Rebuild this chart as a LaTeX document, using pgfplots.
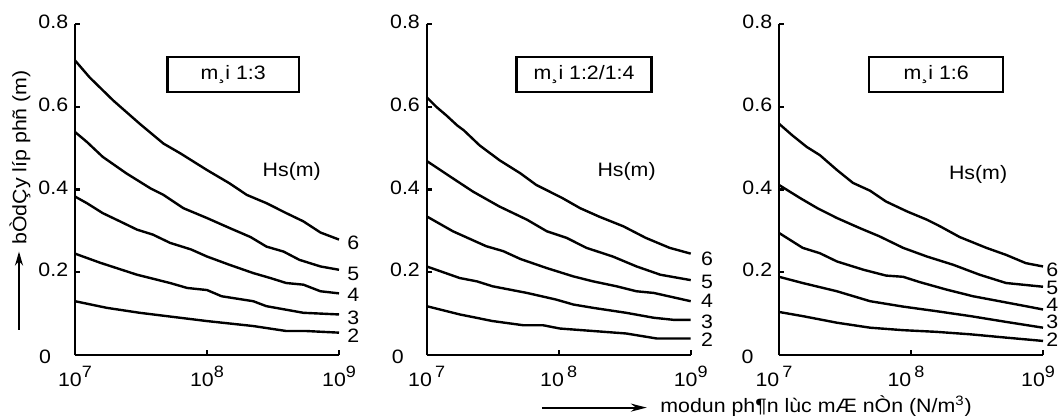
\documentclass[border=0pt]{standalone}
\usepackage{fontspec}
\setmainfont{Liberation Sans}[FakeStretch=1.1]
\usepackage{pgfplots}
\pgfplotsset{compat=1.18}
\usetikzlibrary{arrows.meta}

% raised exponent for the 10^n tick labels
\newcommand\ex[1]{\raisebox{0.45em}{\fontsize{8.2}{9}\selectfont #1}}

\pgfplotsset{
  mypanel/.style={
    scale only axis, width=132pt, height=165.5pt,
    anchor=south west,
    xmin=1e7, xmax=1e9, ymin=0, ymax=0.8,
    axis lines=left, axis line style={-, line width=1.2pt},
    xtick={1e7,1e8,1e9}, ytick={0.2,0.4,0.6,0.8},
    yticklabels={0.2,0.4,0.6,0.8},
    xminorticks=false, yminorticks=false,
    tick align=inside, major tick length=2.5pt,
    tick style={black, line width=1.2pt},
    yticklabel style={yshift=1pt},
    xticklabel style={anchor=base, yshift=-15.5pt},
    every axis plot post/.append style={black, line width=1.2pt, mark=none},
    clip=false,
  },
}
\tikzset{slopebox/.style={draw, line width=1.2pt, minimum height=17.5pt, inner sep=0pt},
  hs/.style={anchor=west, inner sep=0pt}}

\begin{document}
\fontsize{9.7}{11}\selectfont
\begin{tikzpicture}
\path[use as bounding box] (0,0) rectangle (529pt,208.5pt);

% ---- panel 1: slope 1:3
\begin{axis}[xmode=log, mypanel, at={(37.5pt,31pt)},
    xticklabels={{10\ex{7}},{10\ex{8}},{10\ex{9}}}]
\addplot coordinates {(1e7,0.712) (1.29e7,0.671) (1.95e7,0.615) (3.09e7,0.559) (4.68e7,0.511) (6.31e7,0.487) (1e8,0.447) (1.48e8,0.415) (2.00e8,0.387) (2.82e8,0.367) (3.98e8,0.343) (5.37e8,0.323) (7.24e8,0.296) (1e9,0.279)};
\addplot coordinates {(1e7,0.539) (1.23e7,0.515) (1.62e7,0.479) (2.45e7,0.439) (3.72e7,0.403) (4.68e7,0.387) (6.61e7,0.355) (1e8,0.331) (1.48e8,0.307) (2.14e8,0.285) (2.82e8,0.262) (3.80e8,0.250) (5.01e8,0.230) (7.24e8,0.214) (1e9,0.206)};
\addplot coordinates {(1e7,0.383) (1.23e7,0.367) (1.62e7,0.343) (2.19e7,0.323) (2.95e7,0.303) (3.89e7,0.291) (5.25e7,0.271) (7.59e7,0.255) (1e8,0.238) (1.48e8,0.218) (2.24e8,0.198) (3.02e8,0.186) (3.98e8,0.174) (5.37e8,0.170) (7.24e8,0.154) (1e9,0.149)};
\addplot coordinates {(1e7,0.245) (1.55e7,0.223) (2.95e7,0.194) (5.25e7,0.174) (7.08e7,0.162) (1e8,0.157) (1.29e8,0.142) (2.24e8,0.130) (2.82e8,0.118) (5.37e8,0.102) (1e9,0.098)};
\addplot coordinates {(1e7,0.130) (1.74e7,0.114) (3.09e7,0.102) (1e8,0.082) (2.24e8,0.070) (3.98e8,0.058) (5.62e8,0.058) (1e9,0.054)};
\node[slopebox, minimum width=65.8pt] at (rel axis cs:0.599,0.848) {m¸i 1:3};
\node at (rel axis cs:0.821,0.554) {Hs(m)};
\node[xshift=-15pt, yshift=-1pt] at (axis cs:1e7,0) {0};
\node[hs, xshift=4pt] at (axis cs:1e9,0.271) {6};
\node[hs, xshift=4pt] at (axis cs:1e9,0.195) {5};
\node[hs, xshift=4pt] at (axis cs:1e9,0.146) {4};
\node[hs, xshift=4pt] at (axis cs:1e9,0.091) {3};
\node[hs, xshift=4pt] at (axis cs:1e9,0.046) {2};
\end{axis}

% ---- panel 2: slope 1:2/1:4
\begin{axis}[xmode=log, mypanel, at={(213.35pt,31pt)},
    xticklabels={{10\,\ex{7}},{10\,\ex{8}},{10\ex{9}}}]
\addplot coordinates {(1e7,0.623) (1.19e7,0.599) (1.41e7,0.579) (1.70e7,0.555) (1.91e7,0.543) (2.51e7,0.507) (3.55e7,0.471) (5.13e7,0.439) (6.76e7,0.411) (8.51e7,0.395) (1.07e8,0.379) (1.45e8,0.355) (2.04e8,0.334) (3.09e8,0.311) (4.57e8,0.283) (6.92e8,0.259) (1e9,0.245)};
\addplot coordinates {(1e7,0.469) (1.51e7,0.431) (2.24e7,0.395) (3.55e7,0.359) (5.75e7,0.327) (8.13e7,0.299) (1.15e8,0.283) (1.62e8,0.259) (2.57e8,0.238) (3.89e8,0.214) (5.89e8,0.194) (1e9,0.181)};
\addplot coordinates {(1e7,0.335) (1.58e7,0.299) (2.82e7,0.263) (3.80e7,0.251) (5.13e7,0.232) (8.13e7,0.210) (1.29e8,0.190) (1.82e8,0.178) (2.75e8,0.166) (3.89e8,0.154) (5.25e8,0.150) (1e9,0.130)};
\addplot coordinates {(1e7,0.214) (1.78e7,0.186) (2.40e7,0.178) (3.16e7,0.166) (5.75e7,0.150) (9.55e7,0.134) (1.29e8,0.122) (1.82e8,0.114) (3.24e8,0.102) (5.25e8,0.090) (7.41e8,0.085) (1e9,0.085)};
\addplot coordinates {(1e7,0.118) (1.78e7,0.098) (3.16e7,0.082) (5.37e7,0.072) (7.59e7,0.072) (1.02e8,0.064) (1.82e8,0.058) (3.24e8,0.052) (5.50e8,0.040) (1e9,0.040)};
\node[slopebox, minimum width=67.5pt] at (rel axis cs:0.596,0.848) {m¸i 1:2/1:4};
\node at (rel axis cs:0.757,0.554) {Hs(m)};
\node[xshift=-14.4pt, yshift=-1pt] at (axis cs:1e7,0) {0};
\node[hs, xshift=5pt] at (axis cs:1e9,0.232) {6};
\node[hs, xshift=5pt] at (axis cs:1e9,0.176) {5};
\node[hs, xshift=5pt] at (axis cs:1e9,0.130) {4};
\node[hs, xshift=5pt] at (axis cs:1e9,0.080) {3};
\node[hs, xshift=5pt] at (axis cs:1e9,0.036) {2};
\end{axis}

% ---- panel 3: slope 1:6
\begin{axis}[xmode=log, mypanel, at={(389.5pt,31pt)},
    xticklabel style={xshift=-2.5pt},
    xticklabels={{10\,\ex{7}},{10\,\ex{8}},{10\ex{9}}}]
\addplot coordinates {(1e7,0.559) (1.26e7,0.531) (1.62e7,0.503) (2.04e7,0.483) (2.75e7,0.447) (3.63e7,0.416) (4.90e7,0.397) (6.46e7,0.371) (9.33e7,0.347) (1.32e8,0.327) (1.66e8,0.311) (2.34e8,0.285) (3.72e8,0.259) (5.25e8,0.242) (7.41e8,0.222) (1e9,0.214)};
\addplot coordinates {(1e7,0.411) (1.45e7,0.379) (1.95e7,0.355) (2.75e7,0.331) (4.07e7,0.307) (5.75e7,0.287) (8.71e7,0.259) (1.32e8,0.238) (2.09e8,0.218) (3.31e8,0.194) (5.25e8,0.174) (1e9,0.165)};
\addplot coordinates {(1e7,0.295) (1.51e7,0.259) (2.04e7,0.246) (2.75e7,0.226) (4.37e7,0.206) (6.46e7,0.192) (8.71e7,0.189) (1.17e8,0.176) (1.86e8,0.158) (2.95e8,0.142) (4.68e8,0.130) (7.41e8,0.118) (1e9,0.110)};
\addplot coordinates {(1e7,0.189) (1.51e7,0.174) (2.75e7,0.154) (4.90e7,0.130) (8.71e7,0.117) (1.55e8,0.106) (2.82e8,0.094) (5.25e8,0.080) (1e9,0.066)};
\addplot coordinates {(1e7,0.104) (1.51e7,0.094) (2.75e7,0.078) (4.90e7,0.066) (8.71e7,0.060) (1.55e8,0.056) (2.82e8,0.050) (5.25e8,0.042) (1e9,0.034)};
\node[slopebox, minimum width=67pt] at (rel axis cs:0.595,0.848) {m¸i 1:6};
\node at (rel axis cs:0.754,0.544) {Hs(m)};
\node[xshift=-15.7pt, yshift=-1pt] at (axis cs:1e7,0) {0};
\node[hs, xshift=1.5pt] at (axis cs:1e9,0.207) {6};
\node[hs, xshift=1.5pt] at (axis cs:1e9,0.163) {5};
\node[hs, xshift=1.5pt] at (axis cs:1e9,0.121) {4};
\node[hs, xshift=1.5pt] at (axis cs:1e9,0.079) {3};
\node[hs, xshift=1.5pt] at (axis cs:1e9,0.037) {2};
\end{axis}

% axis titles with their arrows
\node[rotate=90] at (10pt,129.8pt) {bÒdÇy líp phñ (m)};
\draw[line width=1pt, -{Stealth[length=7pt, width=4pt]}] (9.5pt,43.5pt) -- (9.5pt,82.7pt);
\draw[line width=1pt, -{Stealth[length=8pt, width=4pt]}] (270.9pt,4.7pt) -- (323.4pt,4.7pt);
\node[anchor=base west, inner sep=0pt] at (330pt,2pt) {modun ph¶n lùc mÆ nÒn (N/m\textsuperscript{3})};
\end{tikzpicture}
\end{document}
